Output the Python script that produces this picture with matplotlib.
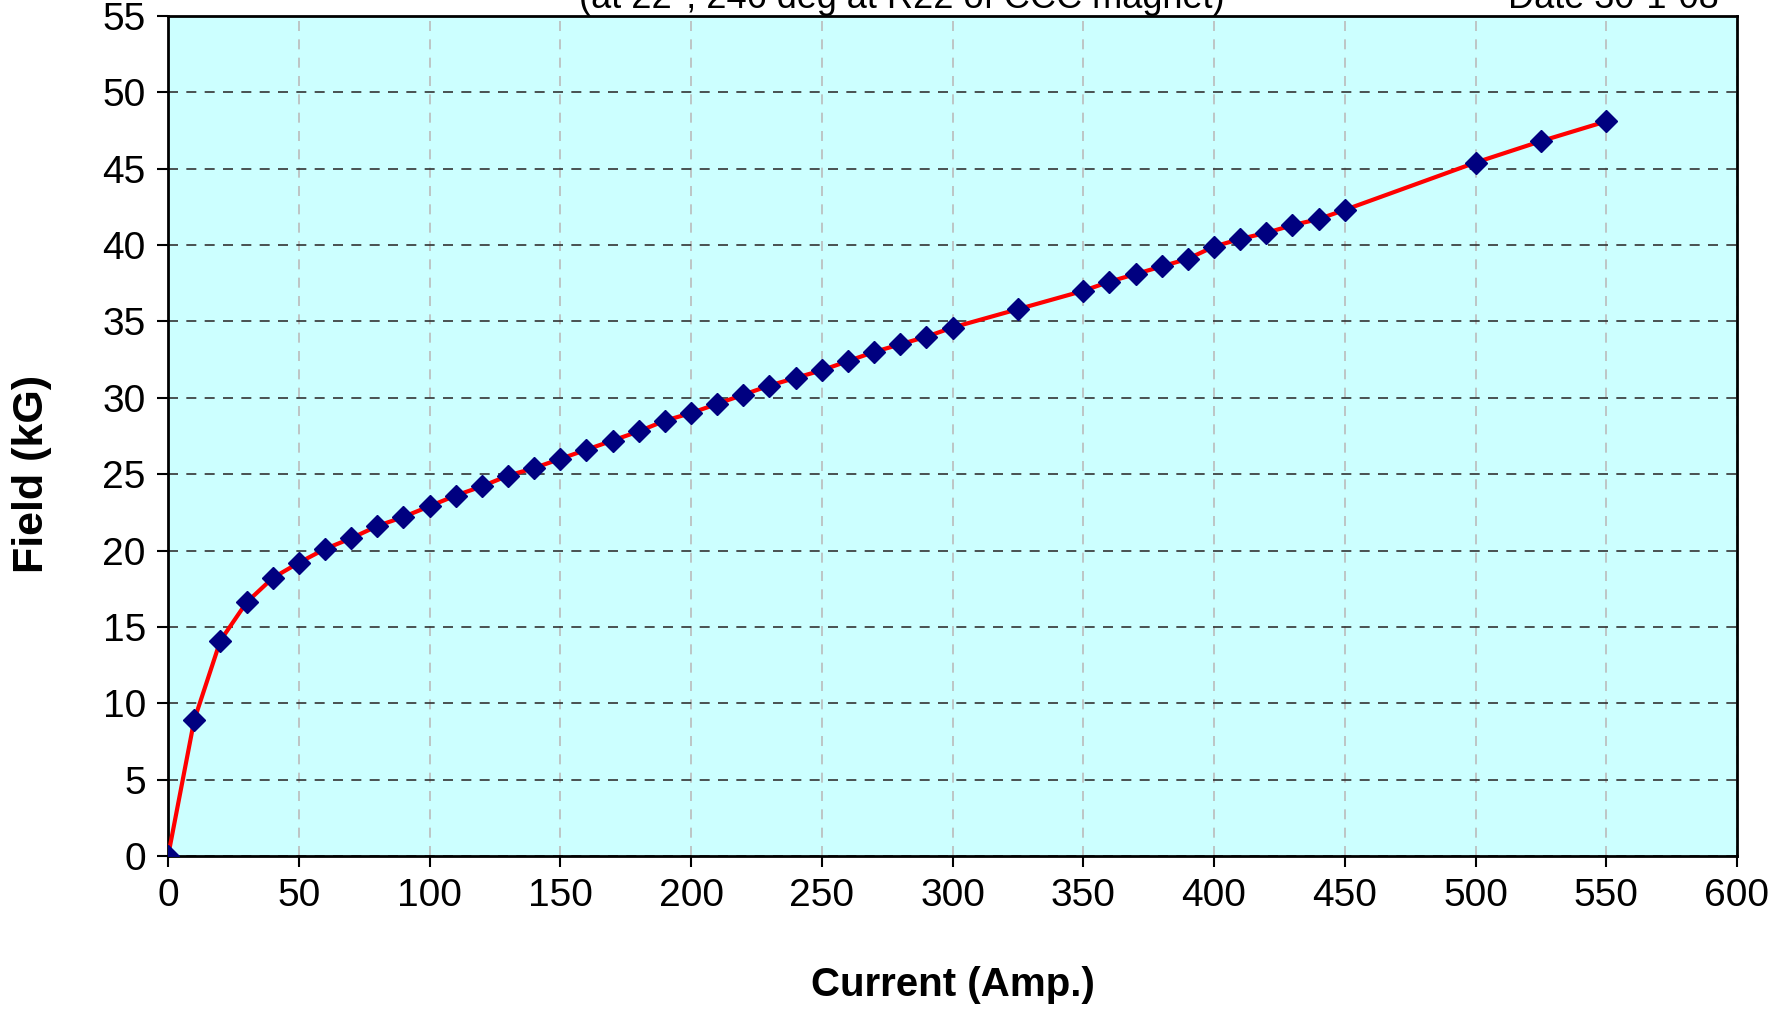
import matplotlib

matplotlib.use("Agg")
import matplotlib.pyplot as plt

# excitation curve: current (A) vs field (kG)
current = [0, 10, 20, 30, 40, 50, 60, 70, 80, 90, 100, 110, 120, 130, 140, 150,
           160, 170, 180, 190, 200, 210, 220, 230, 240, 250, 260, 270, 280, 290,
           300, 325, 350, 360, 370, 380, 390, 400, 410, 420, 430, 440, 450,
           500, 525, 550]
field = [0.0, 8.9, 14.1, 16.6, 18.2, 19.2, 20.1, 20.8, 21.6, 22.2, 22.9, 23.6,
         24.2, 24.9, 25.4, 26.0, 26.6, 27.2, 27.8, 28.5, 29.0, 29.6, 30.2, 30.8,
         31.3, 31.8, 32.4, 33.0, 33.5, 34.0, 34.6, 35.8, 37.0, 37.6, 38.1, 38.6,
         39.1, 39.9, 40.4, 40.8, 41.3, 41.7, 42.3, 45.4, 46.8, 48.1]

x_ticks = list(range(0, 601, 50))
y_ticks = list(range(0, 56, 5))

plt.rcParams["font.family"] = ["Liberation Sans", "DejaVu Sans"]

fig = plt.figure(figsize=(17.92, 10.10), dpi=100)
ax = fig.add_axes([0.0938, 0.1525, 0.8755, 0.8317])
ax.set_facecolor("#ccffff")

ax.plot(current, field, color="red", linewidth=3, zorder=3)
ax.plot(current, field, linestyle="none", marker="D", markersize=11,
        color="#000080", zorder=4)

ax.set_xlim(0, 600)
ax.set_ylim(0, 55)
ax.set_xticks(x_ticks)
ax.set_yticks(y_ticks)
ax.tick_params(labelsize=28, length=8, width=1.5, direction="out", pad=8)

ax.yaxis.grid(True, linestyle=(0, (6, 5)), color="#333333", linewidth=1.2)
ax.xaxis.grid(True, linestyle=(0, (6, 5)), color="#bbbbbb", linewidth=1.2)
ax.set_axisbelow(True)
for spine in ax.spines.values():
    spine.set_linewidth(2)
    spine.set_color("black")

ax.set_xlabel("Current (Amp.)", fontsize=29, fontweight="bold", va="center")
ax.set_ylabel("Field (kG)", fontsize=31, fontweight="bold", va="center")
ax.xaxis.set_label_coords(0.5, -0.154)
ax.yaxis.set_label_coords(-0.087, 0.455)

# header text sits partly above the figure edge, as in the source
fig.text(0.503, 0.992, "(at 22°, 246 deg at R22 of CCC magnet)",
         fontsize=26, ha="center", va="baseline")
fig.text(0.959, 0.992, "Date 30-1-08", fontsize=26, ha="right", va="baseline")

fig.savefig("out.png", dpi=100)
plt.close(fig)
